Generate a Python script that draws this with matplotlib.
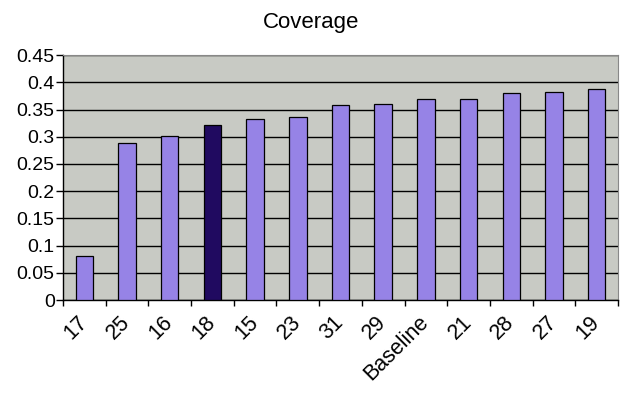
""" Coverage bar chart """

# imports
import matplotlib
matplotlib.use('Agg')
import matplotlib.pyplot as plt
import numpy as np

# data
categories = ['17', '25', '16', '18', '15', '23', '31', '29', 'Baseline', '21', '28', '27', '19']
coverage = [0.081, 0.289, 0.302, 0.322, 0.332, 0.336, 0.359, 0.361, 0.370, 0.370, 0.380, 0.383, 0.387]
highlight = '18'

plt.rcParams['font.family'] = ['Liberation Sans', 'DejaVu Sans']

# figure and plot area
fig = plt.figure(figsize=(6.23, 3.99), dpi=100)
ax = fig.add_axes([0.1011, 0.248, 0.8909, 0.614])
ax.set_facecolor('#c8cac4')

# bars
x = np.arange(len(categories))
colors = ['#200a60' if c == highlight else '#9683e6' for c in categories]
ax.bar(x, coverage, width=0.41, color=colors, edgecolor='black', linewidth=0.9, zorder=3)

# y axis
ax.set_ylim(0, 0.45)
yticks = np.arange(0, 0.451, 0.05)
ax.set_yticks(yticks)
ax.set_yticklabels(['0' if v == 0 else f'{v:.2f}'.rstrip('0') for v in yticks], fontsize=14)
ax.yaxis.grid(True, color='black', linewidth=1.0, zorder=1)
ax.set_axisbelow(True)

# x axis: ticks between categories, labels at centers
ax.set_xlim(-0.5, len(categories) - 0.5)
ax.set_xticks(np.arange(-0.5, len(categories), 1.0))
ax.set_xticklabels([])
ax.set_xticks(x, minor=True)
ax.set_xticklabels(categories, minor=True, rotation=45, ha='right', va='center',
                   rotation_mode='anchor', fontsize=15.5)
ax.tick_params(axis='x', which='minor', length=0, pad=14)
ax.tick_params(axis='x', which='major', length=4, direction='out', width=1)
ax.tick_params(axis='y', length=5, direction='out', width=1, pad=1)

# frame
for side in ['top', 'right']:
	ax.spines[side].set_color('#888888')
for side in ['left', 'bottom']:
	ax.spines[side].set_color('black')
	ax.spines[side].set_linewidth(1.0)

# title
fig.text(0.5, 0.929, 'Coverage', ha='center', va='baseline', fontsize=16)

fig.savefig('out.png', dpi=100)
